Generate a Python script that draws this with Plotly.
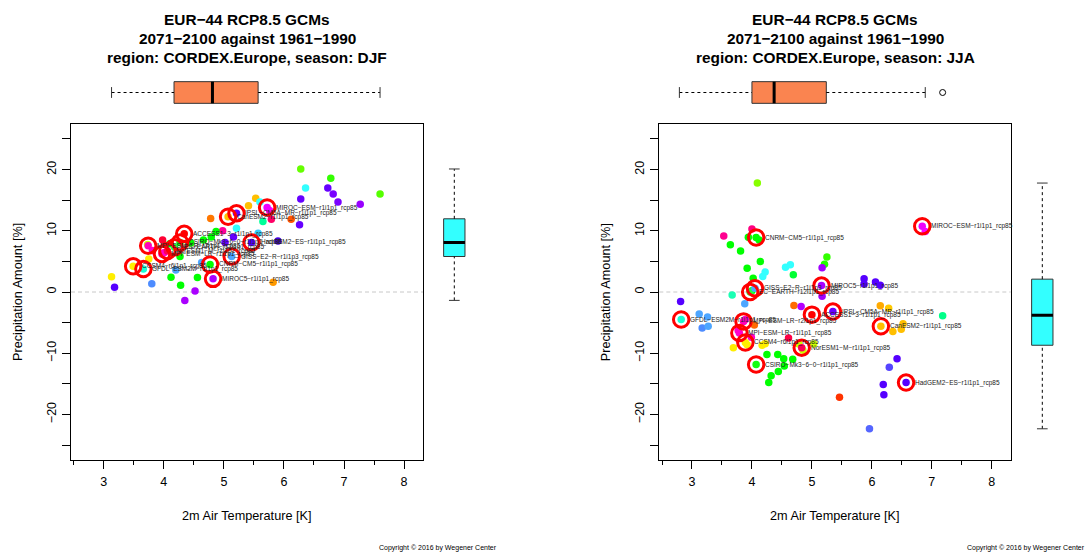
import plotly.graph_objects as go

W, H = 1091, 557
FONT = "Liberation Sans, Arial, Helvetica, sans-serif"

# ---------------- data ----------------
gcm_runs = [
    "ACCESS1\u22123\u2212r1i1p1_rcp85", "CanESM2\u2212r1i1p1_rcp85", "CCSM4\u2212r6i1p1_rcp85",
    "CNRM\u2212CM5\u2212r1i1p1_rcp85", "CSIRO\u2212Mk3\u22126\u22120\u2212r1i1p1_rcp85",
    "EC\u2212EARTH\u2212r12i1p1_rcp85", "GFDL\u2212ESM2M\u2212r1i1p1_rcp85",
    "GISS\u2212E2\u2212R\u2212r1i1p3_rcp85", "HadGEM2\u2212ES\u2212r1i1p1_rcp85",
    "IPSL\u2212CM5A\u2212MR\u2212r1i1p1_rcp85", "MIROC5\u2212r1i1p1_rcp85",
    "MIROC\u2212ESM\u2212r1i1p1_rcp85", "MPI\u2212ESM\u2212LR\u2212r1i1p1_rcp85",
    "MPI\u2212ESM\u2212LR\u2212r2i1p1_rcp85", "NorESM1\u2212M\u2212r1i1p1_rcp85",
]
gcm_colors = ["#ff0000", "#ffbf00", "#ffee00", "#00ff00", "#11ff11", "#22ff44", "#1affd5",
              "#4da6ff", "#5500ff", "#6a00ff", "#aa00ff", "#ee00ff", "#ff00cc", "#ff00bb", "#ff0055"]

# DJF: GCM change signals
djf_gcm_t = [4.34, 5.07, 3.49, 4.77, 4.27, 4.18, 3.66, 5.13, 5.46, 5.21, 4.82, 5.72, 3.97, 3.74, 4.06]
djf_gcm_p = [9.5, 12.3, 4.2, 4.5, 8.1, 7.3, 3.75, 5.8, 8.1, 12.85, 2.15, 13.8, 6.2, 7.55, 6.7]

# DJF: RCM change signals
djf_rcm_t = [6.28, 6.78, 6.36, 6.73, 6.82, 7.60, 6.90, 7.27, 6.28, 5.53, 5.41, 5.60, 5.76, 5.79,
             6.12, 5.65, 6.26, 4.78, 5.21, 4.98, 4.87, 5.16, 4.66, 4.79, 5.57, 5.90, 5.02, 3.98,
             4.27, 3.75, 4.63, 4.20, 4.12, 4.56, 3.13, 3.18, 3.80, 4.28, 4.52, 4.35, 5.82, 3.81,
             4.00, 3.73, 4.45, 4.10]
djf_rcm_p = [20.1, 18.6, 17.0, 17.0, 16.0, 16.0, 14.7, 14.35, 15.2, 15.3, 14.1, 14.7, 13.3, 11.9,
             11.9, 11.5, 11.0, 12.0, 10.4, 10.0, 9.9, 9.0, 8.5, 9.0, 9.6, 8.35, 8.1, 8.5,
             5.8, 5.4, 4.8, 3.6, 2.4, 2.35, 2.5, 0.76, 1.35, 1.1, 0.15, -1.37, 1.6, 6.8,
             6.4, 7.75, 8.0, 7.9]
djf_rcm_col = ["#66ff00", "#33ff00", "#33ffff", "#6600ff", "#7a00ff", "#55ff00", "#7a00ff", "#9900ff",
               "#6600ff", "#ffbf00", "#ffbf00", "#33ffff", "#ff00ff", "#ff0066", "#ff5500", "#00ff99",
               "#6600ff", "#ff7700", "#33ffff", "#ff0099", "#00ff00", "#6600ff", "#00ff00", "#00ff00",
               "#33ccff", "#4400dd", "#6600ff", "#ff0033", "#00ff00", "#ffee00", "#4da6ff", "#4da6ff",
               "#00ff00", "#00ff00", "#ffee00", "#5500ff", "#4d8cff", "#00ff00", "#aa00ff", "#aa00ff",
               "#ff9900", "#ff00cc", "#ff00cc", "#ccff00", "#00ff00", "#00ff00"]

# JJA: GCM change signals
jja_gcm_t = [5.00, 6.15, 3.89, 4.07, 4.07, 3.97, 2.82, 4.05, 6.57, 5.35, 5.16, 6.84, 3.79, 3.86, 4.83]
jja_gcm_p = [-3.7, -5.6, -8.25, 8.9, -11.85, 0.0, -4.5, 0.6, -14.8, -3.2, 1.05, 10.75, -6.7, -4.8, -9.1]

# JJA: RCM change signals
jja_rcm_t = [4.09, 4.00, 3.53, 3.94, 4.12, 3.64, 3.81, 4.14, 3.92, 4.02, 4.56, 4.64, 4.22, 4.18,
             4.69, 5.25, 5.21, 5.17, 5.17, 3.67, 3.88, 2.81, 5.87, 5.87, 6.06, 6.14, 4.70, 4.82,
             6.14, 6.28, 7.18, 6.52, 6.49, 6.35, 3.12, 3.26, 3.17, 3.27, 4.04, 3.89, 3.77, 3.99,
             3.69, 3.92, 4.17, 4.22, 4.61, 4.78, 5.03, 4.25, 4.43, 4.53, 4.68, 4.54, 4.44, 4.32,
             4.28, 6.42, 6.29, 6.19, 6.20, 5.46, 5.96, 6.89, 4.00, 4.85]
jja_rcm_p = [17.8, 10.3, 9.15, 8.95, 8.5, 7.7, 6.7, 5.0, 3.9, 2.25, 4.05, 4.45, 3.25, 2.55,
             2.8, 5.7, 4.55, 3.97, -0.7, -0.5, -1.9, -1.55, 2.15, 1.3, 1.65, 1.1, -2.2, -2.35,
             -2.25, -2.65, -3.87, -5.2, -6.1, -6.45, -3.6, -4.1, -5.9, -5.6, -5.4, -4.5, -6.3, -7.4,
             -9.1, -8.6, -8.7, -8.45, -7.5, -8.5, -8.5, -10.2, -10.2, -10.9, -11.0, -12.1, -13.0, -13.7,
             -14.8, -10.9, -12.3, -15.1, -16.8, -17.2, -22.35, 9.9, 0.2, -9.5]
jja_rcm_col = ["#88ff00", "#ff0080", "#ff0090", "#00ff00", "#00ff00", "#00ff00", "#00ff00", "#00ff00",
               "#00ff00", "#00ff00", "#33ffff", "#33ffff", "#33ffff", "#33ffff", "#00ff33", "#33ff00",
               "#22ff00", "#a000ff", "#a000ff", "#1affb3", "#4da6ff", "#5500ff", "#5500ff", "#5500ff",
               "#5500ff", "#5500ff", "#ff6a00", "#b300ff", "#ffaa00", "#ffc800", "#00ff88", "#ffbf00",
               "#ffbf00", "#ffbf00", "#4da6ff", "#4da6ff", "#4d8cff", "#4da6ff", "#ff6a00", "#ff00cc",
               "#ff00cc", "#ff00cc", "#ffee00", "#ffee00", "#ffee00", "#ffee00", "#ff0044", "#ccff00",
               "#ccff00", "#00ff00", "#00ff00", "#00ff00", "#00ff00", "#00ff00", "#00ff00", "#00ff00",
               "#00ff00", "#5500ff", "#5544ff", "#5500ff", "#5500ff", "#ff3300", "#5566ff", "#ff00ff",
               "#00ff00", "#ccff00"]

# Box plot statistics: lower whisker, Q1, median, Q3, upper whisker
djf_temp_box = [3.13, 4.17, 4.81, 5.57, 7.60]
djf_prec_box = [-1.37, 5.80, 8.10, 11.96, 20.10]
djf_temp_out = []
jja_temp_box = [2.79, 4.00, 4.37, 5.24, 6.89]
jja_prec_box = [-22.35, -8.70, -3.80, 2.10, 17.80]
jja_temp_out = [7.18]

temp_ticks = [3, 4, 5, 6, 7, 8]
temp_minor = [2.5, 3.5, 4.5, 5.5, 6.5, 7.5]
prec_ticks = [-25, -20, -15, -10, -5, 0, 5, 10, 15, 20, 25]
prec_labels = ["", "\u221220", "", "\u221210", "", "0", "", "10", "", "20", ""]

T_RANGE = [2.455, 8.315]
P_RANGE = [-27.45, 27.45]


def fx(px):
    return px / W


def fy(py):
    return 1 - py / H


fig = go.Figure()
layout = {}
annotations = []
shapes = []

BOX_FILL_T = "#fa8450"
BOX_FILL_P = "#33ffff"


def line_trace(xs, ys, xa, ya, **line):
    return go.Scatter(x=xs, y=ys, mode="lines", line=line, xaxis=xa, yaxis=ya,
                      hoverinfo="skip", showlegend=False)


def box_traces(stats, outliers, fill, horizontal, xa, ya):
    """Box-and-whisker drawn from precomputed statistics (value axis + unit cross axis)."""
    lo, q1, med, q3, hi = stats

    def xy(vals, cross):
        return (vals, cross) if horizontal else (cross, vals)

    tr = []
    xs, ys = xy([q1, q3, q3, q1, q1], [-0.5, -0.5, 0.5, 0.5, -0.5])
    tr.append(go.Scatter(x=xs, y=ys, mode="lines", fill="toself", fillcolor=fill,
                         line=dict(color="#333333", width=1), xaxis=xa, yaxis=ya,
                         hoverinfo="skip", showlegend=False))
    for a, b in ((lo, q1), (q3, hi)):
        xs, ys = xy([a, b], [0, 0])
        tr.append(line_trace(xs, ys, xa, ya, color="black", width=1, dash="3px,3px"))
    for v in (lo, hi):
        xs, ys = xy([v, v], [-0.25, 0.25])
        tr.append(line_trace(xs, ys, xa, ya, color="#333333", width=1))
    xs, ys = xy([med, med], [-0.5, 0.5])
    tr.append(line_trace(xs, ys, xa, ya, color="black", width=3))
    if outliers:
        xs, ys = xy(outliers, [0] * len(outliers))
        tr.append(go.Scatter(x=xs, y=ys, mode="markers",
                             marker=dict(symbol="circle-open", size=6, color="black",
                                         line=dict(width=1)),
                             xaxis=xa, yaxis=ya, hoverinfo="skip", showlegend=False))
    return tr


def add_panel(n, left, right, vbox_c, season, rcm_t, rcm_p, rcm_col, gcm_t, gcm_p,
              tbox, tout, pbox, copy_right):
    k = 3 * n
    sx, sy = f"x{k + 1 if k else ''}", f"y{k + 1 if k else ''}"
    tx, ty = f"x{k + 2}", f"y{k + 2}"
    rx, ry = f"x{k + 3}", f"y{k + 3}"
    top, bottom = 124, 460
    tick_font = dict(family=FONT, size=12.5, color="black")

    layout["xaxis" + sx[1:]] = dict(
        domain=[fx(left), fx(right)], range=T_RANGE, anchor=sy, showline=True, mirror=True,
        linecolor="black", linewidth=1, ticks="outside", ticklen=8, tickcolor="black",
        tickvals=temp_ticks, ticktext=[str(v) for v in temp_ticks], tickfont=tick_font,
        minor=dict(tickmode="array", tickvals=temp_minor, ticks="outside", ticklen=4,
                   tickcolor="black", showgrid=False),
        showgrid=False, zeroline=False, ticklabelstandoff=2)
    layout["yaxis" + sy[1:]] = dict(
        domain=[fy(bottom), fy(top)], range=P_RANGE, anchor=sx, showline=True, mirror=True,
        linecolor="black", linewidth=1, ticks="outside", ticklen=8, tickcolor="black",
        tickvals=prec_ticks, ticktext=prec_labels, tickangle=-90, tickfont=tick_font,
        showgrid=False, zeroline=False, ticklabelstandoff=1)
    layout["xaxis" + tx[1:]] = dict(domain=[fx(left), fx(right)], range=T_RANGE, anchor=ty,
                                    visible=False)
    layout["yaxis" + ty[1:]] = dict(domain=[fy(105.5), fy(79.5)], range=[-0.6, 0.6], anchor=tx,
                                    visible=False)
    layout["xaxis" + rx[1:]] = dict(domain=[fx(vbox_c - 12.8), fx(vbox_c + 12.8)],
                                    range=[-0.6, 0.6], anchor=ry, visible=False)
    layout["yaxis" + ry[1:]] = dict(domain=[fy(bottom), fy(top)], range=P_RANGE, anchor=rx,
                                    visible=False)

    # zero reference line
    shapes.append(dict(type="line", xref=f"{sx} domain", x0=0, x1=1, yref=sy, y0=0, y1=0,
                       line=dict(color="#c8c8c8", width=1, dash="4px,3px"), layer="below"))

    # RCM points
    fig.add_trace(go.Scatter(x=rcm_t, y=rcm_p, mode="markers", xaxis=sx, yaxis=sy,
                             marker=dict(size=7.5, color=rcm_col, line=dict(width=0)),
                             showlegend=False, hoverinfo="skip"))
    # GCM points and rings
    fig.add_trace(go.Scatter(x=gcm_t, y=gcm_p, mode="markers", xaxis=sx, yaxis=sy,
                             marker=dict(size=7.5, color=gcm_colors, line=dict(width=0)),
                             showlegend=False, hoverinfo="skip"))
    fig.add_trace(go.Scatter(x=gcm_t, y=gcm_p, mode="markers", xaxis=sx, yaxis=sy,
                             marker=dict(size=15.5, symbol="circle-open", color="#ff0000",
                                         line=dict(width=3)),
                             showlegend=False, hoverinfo="skip"))
    for name, t, p in zip(gcm_runs, gcm_t, gcm_p):
        annotations.append(dict(x=t, y=p, xref=sx, yref=sy, text=name, showarrow=False,
                                xanchor="left", yanchor="middle", xshift=7,
                                font=dict(family=FONT, size=6.5, color="#222222")))

    for tr in box_traces(tbox, tout, BOX_FILL_T, True, tx, ty):
        fig.add_trace(tr)
    for tr in box_traces(pbox, [], BOX_FILL_P, False, rx, ry):
        fig.add_trace(tr)

    cx = (left + right) / 2
    for line, yc in zip(["EUR\u221244 RCP8.5 GCMs", "2071\u22122100 against 1961\u22121990",
                         f"region: CORDEX.Europe, season: {season}"], [19.5, 38.8, 58.0]):
        annotations.append(dict(x=fx(cx), y=fy(yc), xref="paper", yref="paper", text=f"<b>{line}</b>",
                                showarrow=False, xanchor="center", yanchor="middle",
                                font=dict(family=FONT, size=15.4, color="black")))
    annotations.append(dict(x=fx(cx), y=fy(515.5), xref="paper", yref="paper",
                            text="2m Air Temperature [K]", showarrow=False,
                            xanchor="center", yanchor="middle",
                            font=dict(family=FONT, size=12.7, color="black")))
    annotations.append(dict(x=fx(left - 53), y=fy(292), xref="paper", yref="paper",
                            text="Precipitation Amount [%]", showarrow=False, textangle=-90,
                            xanchor="center", yanchor="middle",
                            font=dict(family=FONT, size=12.7, color="black")))
    annotations.append(dict(x=fx(copy_right), y=fy(547.7), xref="paper", yref="paper",
                            text="Copyright \u00a9 2016 by Wegener Center", showarrow=False,
                            xanchor="right", yanchor="middle",
                            font=dict(family=FONT, size=7, color="black")))


add_panel(0, 71, 423, 454.3, "DJF", djf_rcm_t, djf_rcm_p, djf_rcm_col, djf_gcm_t, djf_gcm_p,
          djf_temp_box, djf_temp_out, djf_prec_box, 499)
add_panel(1, 659.3, 1010.7, 1042.3, "JJA", jja_rcm_t, jja_rcm_p, jja_rcm_col, jja_gcm_t, jja_gcm_p,
          jja_temp_box, jja_temp_out, jja_prec_box, 1087)

fig.update_layout(width=W, height=H, margin=dict(l=0, r=0, t=0, b=0),
                  paper_bgcolor="white", plot_bgcolor="white", showlegend=False,
                  annotations=annotations, shapes=shapes, **layout)

fig.write_html("out.html")
